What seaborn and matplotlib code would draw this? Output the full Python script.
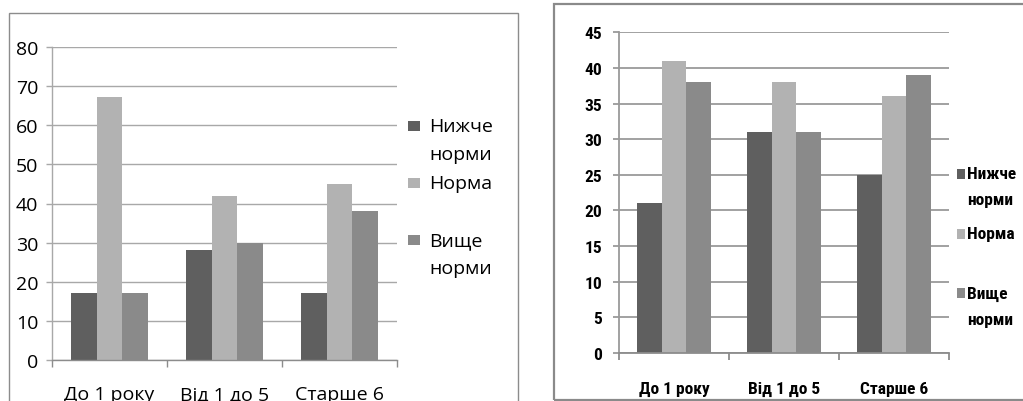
import matplotlib
matplotlib.use("Agg")
import matplotlib.pyplot as plt
from matplotlib import font_manager
from matplotlib.patches import Rectangle
import pandas as pd
import seaborn as sns

# ---- data -------------------------------------------------------------
categories = ["До 1 року", "Від 1 до 5", "Старше 6"]
series = ["Нижче норми", "Норма", "Вище норми"]

# left panel
left_below = [17.0, 28.2, 17.0]
left_norm = [67.3, 42.0, 45.0]
left_above = [17.0, 29.8, 38.0]
left_yticks = [0, 10, 20, 30, 40, 50, 60, 70, 80]

# right panel
right_below = [21, 31, 25]
right_norm = [41, 38, 36]
right_above = [38, 31, 39]
right_yticks = [0, 5, 10, 15, 20, 25, 30, 35, 40, 45]

colors = ["#5f5f5f", "#b2b2b2", "#8a8a8a"]

# ---- figure -----------------------------------------------------------
W, H = 1023, 402
sns.set_theme(style="white")
fig = plt.figure(figsize=(W / 100, H / 100), dpi=100)
fig.patch.set_facecolor("white")

available = {f.name for f in font_manager.fontManager.ttflist}
wide_font = next((n for n in ["Open Sans", "Noto Sans", "DejaVu Sans"] if n in available), "DejaVu Sans")
narrow_font = next((n for n in ["Liberation Sans Narrow", "Roboto Condensed",
                                "DejaVu Sans Condensed", "Liberation Sans"] if n in available),
                   "DejaVu Sans")


def fx(x):
    return x / W


def fy(y):
    return 1 - y / H


def long_frame(below, norm, above):
    rows = []
    for name, vals in zip(series, [below, norm, above]):
        for cat, v in zip(categories, vals):
            rows.append({"category": cat, "series": name, "value": v})
    return pd.DataFrame(rows)


def draw_panel(box, values, yticks, font, fs, weight, grid_color, grid_lw,
               ytick_len, ytick_pad, xpad, legend):
    x0, y0, x1, y1 = box
    ax = fig.add_axes([fx(x0), fy(y1), (x1 - x0) / W, (y1 - y0) / H])
    df = long_frame(*values)
    sns.barplot(data=df, x="category", y="value", hue="series",
                order=categories, hue_order=series, palette=colors,
                saturation=1, width=0.67, errorbar=None, legend=False,
                linewidth=0, ax=ax)
    ax.set_xlim(-0.5, len(categories) - 0.5)
    ax.set_ylim(yticks[0], yticks[-1])
    ax.set_yticks(yticks, labels=[str(t) for t in yticks],
                  fontfamily=font, fontsize=fs, fontweight=weight, color="black")
    ax.set_xticks(range(len(categories)), labels=categories,
                  fontfamily=font, fontsize=fs, fontweight=weight, color="black")
    ax.set_xticks([i - 0.5 for i in range(len(categories) + 1)], minor=True)
    ax.set_xlabel("")
    ax.set_ylabel("")
    ax.yaxis.grid(True, color=grid_color, linewidth=grid_lw)
    ax.xaxis.grid(False)
    ax.set_axisbelow(True)
    for s in ["top", "right"]:
        ax.spines[s].set_visible(False)
    ax.spines["left"].set_color(grid_color)
    ax.spines["left"].set_linewidth(grid_lw)
    ax.spines["bottom"].set_color("#8c8c8c")
    ax.spines["bottom"].set_linewidth(grid_lw)
    ax.tick_params(axis="y", which="major", left=True, length=ytick_len,
                   width=grid_lw, color=grid_color, pad=ytick_pad)
    ax.tick_params(axis="x", which="major", bottom=False, length=0, pad=xpad)
    ax.tick_params(axis="x", which="minor", bottom=True, length=5,
                   width=grid_lw, color="#8c8c8c")
    ax.set_facecolor("white")

    # legend: squares aligned with the first line of each entry
    x_sq, sq_w, sq_h, x_txt, y_first, entry_step, line_step = legend
    for i, name in enumerate(series):
        yc = y_first + i * entry_step
        fig.add_artist(Rectangle((fx(x_sq), fy(yc + sq_h / 2)), sq_w / W, sq_h / H,
                                 transform=fig.transFigure, facecolor=colors[i],
                                 edgecolor="none"))
        for j, word in enumerate(name.split(" ")):
            fig.text(fx(x_txt), fy(yc + j * line_step), word, fontfamily=font,
                     fontsize=fs, fontweight=weight, va="center", ha="left",
                     color="black")
    return ax


# frames around both panels
fig.add_artist(Rectangle((fx(9), fy(430)), (518 - 9) / W, (430 - 14) / H,
                         transform=fig.transFigure, fill=False,
                         edgecolor="#8c8c8c", linewidth=1.0))
fig.add_artist(Rectangle((fx(554), fy(401)), (1040 - 554) / W, (401 - 5) / H,
                         transform=fig.transFigure, fill=False,
                         edgecolor="#8a8a8a", linewidth=1.6))

draw_panel((52, 48, 397, 361), (left_below, left_norm, left_above), left_yticks,
           wide_font, 14, "normal", "#a8a8a8", 1.0, 4, 6, 18,
           (408, 12, 10, 429, 127, 57, 28.5))
draw_panel((619, 33.3, 949, 354), (right_below, right_norm, right_above), right_yticks,
           narrow_font, 12.5, "bold", "#9a9a9a", 1.3, 4, 8, 20,
           (957, 8, 10, 967, 175, 59.5, 26))

fig.savefig("out.png", dpi=100, facecolor="white")
